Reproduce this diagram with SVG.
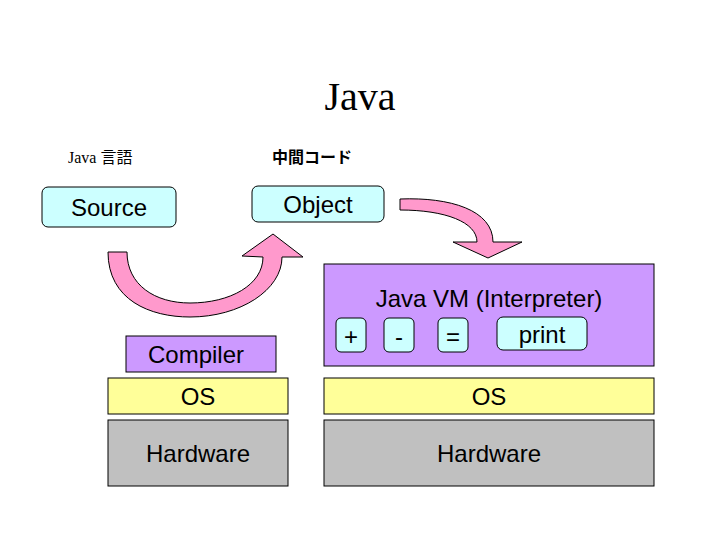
<svg xmlns="http://www.w3.org/2000/svg" width="720" height="540" viewBox="0 0 720 540">
<style>
.s{font-family:"Liberation Sans",Arial,sans-serif;font-size:24px;fill:#000;text-anchor:middle}
.b{stroke:#000;stroke-width:1}
.cy{fill:#ccffff}
.pu{fill:#cc99ff}
.ye{fill:#ffff99}
.gr{fill:#c0c0c0}
.ar{fill:#ff99cc;stroke:#000;stroke-width:1}
</style>
<rect width="720" height="540" fill="#fff"/>
<text x="360" y="110" font-family="'Liberation Serif',serif" font-size="40" text-anchor="middle">Java</text>
<text x="68" y="163" font-family="'Liberation Serif','Noto Sans CJK JP',serif" font-size="16">Java 言語</text>
<text x="272" y="163" font-family="'Noto Sans CJK JP',sans-serif" font-size="16" font-weight="bold">中間コード</text>
<g id="source"><rect class="b cy" x="42" y="187" width="134" height="40" rx="6"/><text class="s" x="109" y="216">Source</text></g>
<g id="object"><rect class="b cy" x="252" y="186" width="132" height="36" rx="6"/><text class="s" x="318" y="213">Object</text></g>
<g id="compiler"><rect class="b pu" x="126" y="336" width="150" height="36"/><text class="s" x="196" y="363">Compiler</text></g>
<g id="os-left"><rect class="b ye" x="108" y="378" width="180" height="36"/><text class="s" x="198" y="405">OS</text></g>
<g id="hw-left"><rect class="b gr" x="108" y="420" width="180" height="66"/><text class="s" x="198" y="462">Hardware</text></g>
<g id="vm"><rect class="b pu" x="324" y="264" width="330" height="102"/><text class="s" x="489" y="307">Java VM (Interpreter)</text>
<rect class="b cy" x="336" y="318" width="30" height="34" rx="5"/><text class="s" x="351" y="345">+</text>
<rect class="b cy" x="384" y="318" width="30" height="34" rx="5"/><text class="s" x="399" y="345">-</text>
<rect class="b cy" x="438" y="318" width="30" height="34" rx="5"/><text class="s" x="453" y="345">=</text>
<rect class="b cy" x="497" y="317" width="90" height="33" rx="6"/><text class="s" x="542" y="343">print</text></g>
<g id="os-right"><rect class="b ye" x="324" y="378" width="330" height="36"/><text class="s" x="489" y="405">OS</text></g>
<g id="hw-right"><rect class="b gr" x="324" y="420" width="330" height="66"/><text class="s" x="489" y="462">Hardware</text></g>
<g id="connectors">
<path class="ar" d="M108,252 C108,300 150,317 190,317 C240,317 282,290 282,257 L303,257 L273,234 L242,256 L263,257 C263,285 230,303 190,303 C155,303 127,285 127,252 Z"/>
<path class="ar" d="M400,199 C450,197 493,210 493,242 L522,242 L488,258 L453,242 L477,242 C477,222 445,210 400,210 Z"/>
</g>
</svg>
